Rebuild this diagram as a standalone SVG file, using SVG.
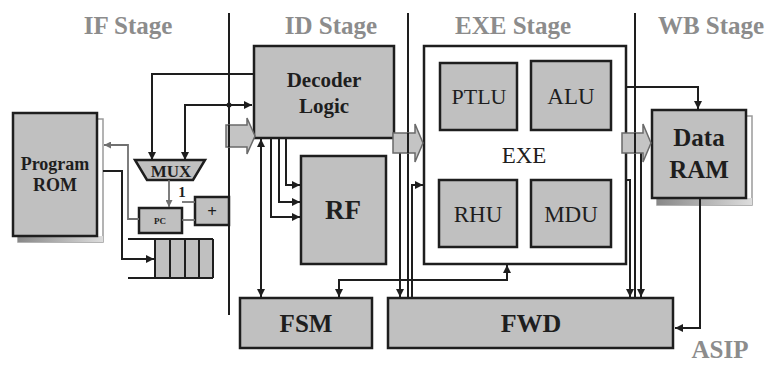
<svg xmlns="http://www.w3.org/2000/svg" width="769" height="365" viewBox="0 0 769 365">
<style>
.box{fill:#c0c0c0;stroke:#1e1e1e;stroke-width:2.5}
.wbox{fill:#fff;stroke:#1e1e1e;stroke-width:2.5}
.shadow{fill:#fff;stroke:#9a9a9a;stroke-width:1.5}
.ln{fill:none;stroke:#1e1e1e;stroke-width:2}
.gl{fill:none;stroke:#707070;stroke-width:1.8}
.reg{fill:#c4c4c4;stroke:#6a6a6a;stroke-width:1.5}
text{font-family:"Liberation Serif","Times New Roman",Tinos,"DejaVu Serif","Noto Serif",serif}
.stage{font-weight:bold;font-size:25px;fill:#8c8c8c;text-anchor:middle}
.lbl{fill:#1e1e1e;text-anchor:middle}
.b{font-weight:bold}
</style>
<defs>
<marker id="a" viewBox="0 0 8 8" refX="8" refY="4" markerWidth="8" markerHeight="8" markerUnits="userSpaceOnUse" orient="auto-start-reverse"><path d="M0,0 L8,4 L0,8 z" fill="#1e1e1e"/></marker>
<marker id="g" viewBox="0 0 8 8" refX="8" refY="4" markerWidth="7" markerHeight="7" markerUnits="userSpaceOnUse" orient="auto"><path d="M0,0 L8,4 L0,8 z" fill="#707070"/></marker>
<linearGradient id="sh" x1="0" y1="0" x2="1" y2="0"><stop offset="0" stop-color="#888"/><stop offset="1" stop-color="#ddd"/></linearGradient>
</defs>

<g id="stages">
<text class="stage" x="128" y="34">IF Stage</text>
<text class="stage" x="331" y="34">ID Stage</text>
<text class="stage" x="513" y="34">EXE Stage</text>
<text class="stage" x="711" y="34">WB Stage</text>
<text class="stage" x="720" y="358" font-size="24">ASIP</text>
</g>

<g id="program-rom">
<rect class="shadow" x="18" y="119" width="85" height="123"/>
<rect x="18" y="236" width="85" height="6" fill="url(#sh)"/>
<rect class="box" x="13" y="113" width="84" height="123"/>
<text class="lbl b" x="55" y="170" font-size="18">Program</text>
<text class="lbl b" x="55" y="191" font-size="18">ROM</text>
</g>

<g id="mux">
<polygon class="box" points="135,160 205,160 193,180 147,180" stroke-width="2"/>
<text class="lbl b" x="171" y="177" font-size="17">MUX</text>
</g>

<g id="one"><text class="lbl b" x="182" y="197" font-size="15">1</text></g>

<g id="pc">
<rect class="box" x="139" y="208" width="43" height="25" stroke-width="2"/>
<text class="lbl b" x="160" y="224" font-size="9">PC</text>
</g>

<g id="adder">
<rect class="box" x="195" y="197" width="34" height="28" stroke-width="2"/>
<text class="lbl b" x="212" y="217" font-size="17">+</text>
</g>

<g id="inst-buffer">
<rect x="155" y="239" width="58" height="39" fill="#c0c0c0"/>
<path class="ln" d="M128,239 H213 M128,278 H213 M155,239 V278 M170,239 V278 M185,239 V278 M199,239 V278 M213,239 V278"/>
</g>

<g id="decoder">
<rect class="box" x="254" y="46" width="140" height="92"/>
<text class="lbl b" x="324" y="87" font-size="21">Decoder</text>
<text class="lbl b" x="324" y="113" font-size="21">Logic</text>
</g>

<g id="rf">
<rect class="box" x="301" y="156" width="85" height="108"/>
<text class="lbl b" x="343" y="219" font-size="27">RF</text>
</g>

<g id="exe">
<rect class="wbox" x="424" y="46" width="202" height="218"/>
<text class="lbl" x="524" y="163" font-size="23">EXE</text>
</g>
<g id="ptlu">
<rect class="box" x="440" y="63" width="77" height="67"/>
<text class="lbl" x="479" y="104" font-size="22">PTLU</text>
</g>
<g id="alu">
<rect class="box" x="531" y="61" width="80" height="69"/>
<text class="lbl" x="571" y="104" font-size="23">ALU</text>
</g>
<g id="rhu">
<rect class="box" x="439" y="180" width="78" height="67"/>
<text class="lbl" x="478" y="222" font-size="23">RHU</text>
</g>
<g id="mdu">
<rect class="box" x="531" y="180" width="80" height="67"/>
<text class="lbl" x="571" y="222" font-size="23">MDU</text>
</g>

<g id="data-ram">
<rect class="shadow" x="657" y="116" width="95" height="89"/>
<rect x="657" y="198" width="95" height="7" fill="url(#sh)"/>
<rect class="box" x="652" y="110" width="94" height="88"/>
<text class="lbl b" x="699" y="146" font-size="25">Data</text>
<text class="lbl b" x="699" y="178" font-size="25">RAM</text>
</g>

<g id="fsm">
<rect class="box" x="240" y="298" width="132" height="50"/>
<text class="lbl b" x="306" y="332" font-size="25">FSM</text>
</g>

<g id="fwd">
<rect class="box" x="388" y="298" width="285" height="50"/>
<text class="lbl b" x="531" y="332" font-size="26">FWD</text>
</g>

<g id="connectors">
<path class="ln" d="M229,13 V315"/>
<path class="ln" d="M408,13 V298"/>
<path class="ln" d="M635,13 V298"/>
<path class="ln" d="M254,74 H152 V160" marker-end="url(#a)"/>
<path class="ln" d="M229,105 H185 V160" marker-end="url(#a)"/>
<path class="ln" d="M229,105 H252" marker-end="url(#a)"/>
<circle cx="229" cy="105" r="2.5" fill="#1e1e1e"/>
<path class="gl" d="M169,180 V207" marker-end="url(#g)"/>
<path class="gl" d="M182,202 H195"/>
<path class="gl" d="M182,220 H195"/>
<path class="gl" d="M139,219 H128 V145 H104" marker-end="url(#g)"/>
<path class="ln" d="M103,171 H122 V259 H154" marker-end="url(#a)"/>
<path class="ln" d="M286,138 V185 H300" marker-end="url(#a)"/>
<path class="ln" d="M279,138 V202 H300" marker-end="url(#a)"/>
<path class="ln" d="M271,138 V217 H300" marker-end="url(#a)"/>
<path class="ln" d="M261,139 V297" marker-start="url(#a)" marker-end="url(#a)"/>
<path class="ln" d="M507,265 V280 H339 V297" marker-start="url(#a)" marker-end="url(#a)"/>
<path class="ln" d="M400,143 V297" marker-end="url(#a)"/>
<path class="ln" d="M412,298 V185 H423" marker-end="url(#a)"/>
<path class="ln" d="M626,87 H698 V109" marker-end="url(#a)"/>
<path class="ln" d="M626,180 H630 V297" marker-end="url(#a)"/>
<path class="ln" d="M641,143 V297" marker-end="url(#a)"/>
<path class="ln" d="M700,198 V328 H675" marker-end="url(#a)"/>
</g>

<g id="pipeline-regs">
<polygon class="reg" points="226,125 247,125 247,118 255,136 247,154 247,147 226,147"/>
<polygon class="reg" points="393,133 415,133 415,124 423,143 415,162 415,153 393,153"/>
<polygon class="reg" points="622,133 643,133 643,124 651,143 643,162 643,153 622,153"/>
<path class="ln" d="M229,125 V147 M408,133 V153 M635,133 V153" stroke-width="1.5"/>
</g>
</svg>
